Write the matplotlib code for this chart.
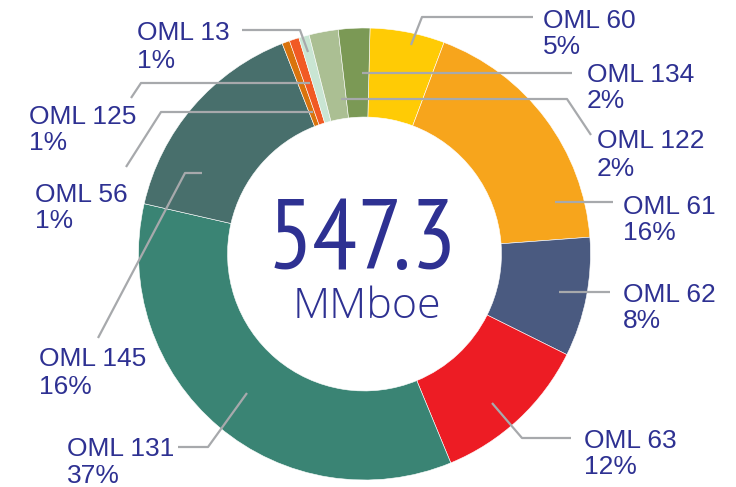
import matplotlib
matplotlib.use('Agg')
import matplotlib.pyplot as plt

# reserves per licence, MMboe, clockwise from the top
names = ['OML 60', 'OML 61', 'OML 62', 'OML 63', 'OML 131', 'OML 145',
         'OML 56', 'OML 125', 'OML 13', 'OML 122', 'OML 134']
mmboe = [29.2, 99.0, 46.7, 62.5, 190.5, 84.8, 3.0, 3.8, 4.1, 11.4, 12.3]
pct_labels = ['5%', '16%', '8%', '12%', '37%', '16%', '1%', '1%', '1%', '2%', '2%']
colors = ['#FFCB05', '#F7A51C', '#4A5A80', '#ED1C24', '#3A8474', '#486F6C',
          '#D9730D', '#F15A24', '#C9E5D3', '#ABBF93', '#7B9955']
total_label = '547.3'
unit_label = 'MMboe'

# label layout in picture pixels: text left, cap top, leader polyline
label_pos = {
    'OML 60': (543, 9, [(533, 17), (422, 17), (411, 45)]),
    'OML 61': (623, 195, [(613, 202), (555, 202)]),
    'OML 62': (623, 283, [(610, 292), (559, 292)]),
    'OML 63': (584, 429, [(571, 438), (522, 438), (492, 403)]),
    'OML 131': (67, 438, [(178, 447), (208, 447), (247, 393)]),
    'OML 145': (39, 348, [(98, 338), (185, 173), (202, 173)]),
    'OML 56': (35, 183, [(126, 167), (161, 112), (313, 112)]),
    'OML 125': (29, 105, [(131, 98), (141, 83), (310, 83)]),
    'OML 13': (137, 22, [(242, 30), (300, 30), (308, 52)]),
    'OML 122': (597, 130, [(591, 135), (567, 99), (341, 99)]),
    'OML 134': (587, 63, [(572, 73), (362, 73)]),
}

W, H = 736, 487
CX, CY, R = 364.5, 254, 226.0

def px(x, y):
    return (x - CX) / R, (CY - y) / R

text_color = '#2E3192'
line_color = '#A7A9AC'

fig = plt.figure(figsize=(7.36, 4.87), dpi=100)
ax = fig.add_axes([0, 0, 1, 1])
ax.pie(mmboe, colors=colors, startangle=88.6, counterclock=False, radius=1,
       wedgeprops=dict(width=0.394, edgecolor='white', linewidth=0.4))
ax.set_xlim(-CX / R, (W - CX) / R)
ax.set_ylim((CY - H) / R, CY / R)
ax.set_aspect('equal')
ax.axis('off')

for name, pct in zip(names, pct_labels):
    tx, ty, pts = label_pos[name]
    xs, ys = zip(*[px(a, b) for a, b in pts])
    ax.plot(xs, ys, color=line_color, lw=1.6, solid_capstyle='butt')
    x0, y0 = px(tx, ty + 18.5)
    ax.text(x0, y0, name, ha='left', va='baseline', fontsize=19,
            color=text_color, family='Liberation Sans')
    x1, y1 = px(tx, ty + 45.5)
    ax.text(x1, y1, pct, ha='left', va='baseline', fontsize=19,
            color=text_color, family='Liberation Sans')

x, y = px(362.5, 269)
ax.text(x, y, total_label, ha='center', va='baseline', fontsize=72,
        color=text_color,
        family=['PT Sans Narrow', 'Roboto Condensed', 'Open Sans'])
x, y = px(367, 318)
ax.text(x, y, unit_label, ha='center', va='baseline', fontsize=31,
        color=text_color, family='Open Sans', fontweight='light')

fig.savefig('out.png', dpi=100)
